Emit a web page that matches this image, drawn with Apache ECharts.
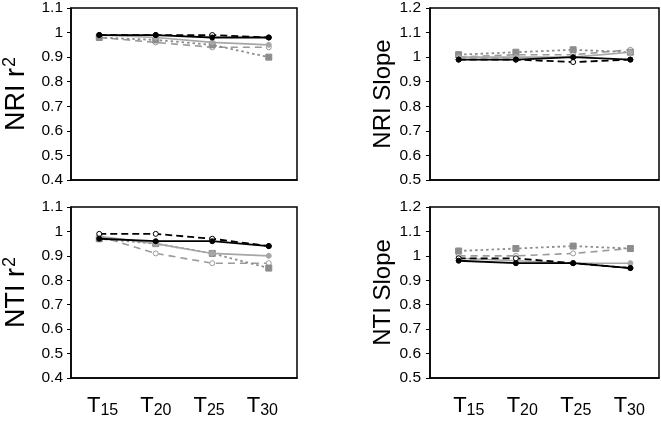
<!DOCTYPE html>
<html><head><meta charset="utf-8">
<script src="https://cdn.jsdelivr.net/npm/echarts@6/dist/echarts.min.js"></script>
<style>html,body{margin:0;padding:0;background:#fff}#c{width:661px;height:422px}</style>
</head><body><div id="c"></div>
<script>
// categories / tick labels
const categories = ['T15', 'T20', 'T25', 'T30'];

// NRI r2
const nriR2_blackSolid  = [0.99, 0.99, 0.98, 0.98];
const nriR2_blackDashed = [0.99, 0.99, 0.99, 0.98];
const nriR2_graySolid   = [0.99, 0.98, 0.96, 0.95];
const nriR2_grayDashed  = [0.98, 0.96, 0.94, 0.94];
const nriR2_grayDotted  = [0.98, 0.97, 0.95, 0.90];

// NRI slope
const nriSlope_blackSolid  = [0.99, 0.99, 1.00, 0.99];
const nriSlope_blackDashed = [0.99, 0.99, 0.98, 0.99];
const nriSlope_graySolid   = [1.00, 1.00, 1.00, 1.02];
const nriSlope_grayDashed  = [1.00, 1.01, 1.01, 1.03];
const nriSlope_grayDotted  = [1.01, 1.02, 1.03, 1.02];

// NTI r2
const ntiR2_blackSolid  = [0.97, 0.96, 0.96, 0.94];
const ntiR2_blackDashed = [0.99, 0.99, 0.97, 0.94];
const ntiR2_graySolid   = [0.98, 0.95, 0.91, 0.90];
const ntiR2_grayDashed  = [0.98, 0.91, 0.87, 0.87];
const ntiR2_grayDotted  = [0.97, 0.95, 0.91, 0.85];

// NTI slope
const ntiSlope_blackSolid  = [0.98, 0.97, 0.97, 0.95];
const ntiSlope_blackDashed = [0.99, 0.99, 0.97, 0.95];
const ntiSlope_graySolid   = [0.99, 0.98, 0.97, 0.97];
const ntiSlope_grayDashed  = [1.00, 1.00, 1.01, 1.03];
const ntiSlope_grayDotted  = [1.02, 1.03, 1.04, 1.03];

const panels = [
  {name: ['NRI r', '2'], min: 0.4, max: 1.1, data: [nriR2_blackSolid, nriR2_blackDashed, nriR2_graySolid, nriR2_grayDashed, nriR2_grayDotted]},
  {name: ['NRI Slope', ''], min: 0.5, max: 1.2, data: [nriSlope_blackSolid, nriSlope_blackDashed, nriSlope_graySolid, nriSlope_grayDashed, nriSlope_grayDotted]},
  {name: ['NTI r', '2'], min: 0.4, max: 1.1, data: [ntiR2_blackSolid, ntiR2_blackDashed, ntiR2_graySolid, ntiR2_grayDashed, ntiR2_grayDotted]},
  {name: ['NTI Slope', ''], min: 0.5, max: 1.2, data: [ntiSlope_blackSolid, ntiSlope_blackDashed, ntiSlope_graySolid, ntiSlope_grayDashed, ntiSlope_grayDotted]}
];

const styles = [
  {color: '#000', type: 'solid', width: 1.8, symbol: 'circle', fill: '#000', size: 5, z: 10},
  {color: '#000', type: [7, 4], width: 1.8, symbol: 'circle', fill: '#fff', size: 5, z: 9},
  {color: '#a6a6a6', type: 'solid', width: 1.6, symbol: 'circle', fill: '#a6a6a6', size: 5, z: 8},
  {color: '#9a9a9a', type: [7, 5], width: 1.6, symbol: 'circle', fill: '#fff', size: 5, z: 6},
  {color: '#8c8c8c', type: [2.5, 3], width: 1.8, symbol: 'rect', fill: '#8c8c8c', size: 6, z: 7}
];

const grids = [
  {left: 67, top: 7, width: 230, height: 173},
  {left: 430, top: 7, width: 229, height: 173},
  {left: 67, top: 207, width: 230, height: 171},
  {left: 430, top: 207, width: 229, height: 171},
  // label-only grids for the category labels below bottom panels
  {left: 76, top: 207, width: 213, height: 171},
  {left: 442, top: 207, width: 214, height: 171}
];

const F = 'Liberation Sans, Arial';
const xAxes = [], yAxes = [], series = [];
panels.forEach((p, i) => {
  xAxes.push({
    type: 'category', gridIndex: i, data: categories, boundaryGap: true,
    axisLine: {show: true, lineStyle: {color: '#000', width: 1.5}},
    axisTick: {show: false}, axisLabel: {show: false}, splitLine: {show: false}
  });
  const left = (i % 2 === 0);
  yAxes.push({
    type: 'value', gridIndex: i, min: p.min, max: p.max, interval: 0.1,
    axisLine: {show: true, lineStyle: {color: '#000', width: 1.5}},
    axisTick: {show: true, length: 4, lineStyle: {color: '#000'}},
    splitLine: {show: false},
    axisLabel: {fontFamily: F, fontSize: 15.5, color: '#000', margin: left ? 8 : 9,
      formatter: v => String(parseFloat(v.toFixed(1)))},
    name: p.name[1] ? '{a|' + p.name[0] + '}{b|' + p.name[1] + '}' : '{c|' + p.name[0] + '}',
    nameLocation: 'middle', nameRotate: 90, nameGap: left ? 38 : 32,
    nameTextStyle: {
      rich: {
        a: {fontFamily: F, fontSize: 27, color: '#000'},
        b: {fontFamily: F, fontSize: 18, color: '#000', verticalAlign: 'top', padding: [0, 0, 14, 1]},
        c: {fontFamily: F, fontSize: 24, color: '#000'}
      }
    }
  });
  p.data.forEach((d, k) => {
    const s = styles[k];
    series.push({
      type: 'line', xAxisIndex: i, yAxisIndex: i, data: d,
      symbol: s.symbol, symbolSize: s.size, showSymbol: true,
      lineStyle: {color: s.color, type: s.type, width: s.width},
      itemStyle: {color: s.fill, borderColor: s.color, borderWidth: 1},
      z: s.z, animation: false
    });
  });
});
[4, 5].forEach(g => {
  xAxes.push({
    type: 'category', gridIndex: g, data: categories, boundaryGap: true,
    axisLine: {show: false}, axisTick: {show: false}, splitLine: {show: false},
    axisLabel: {
      show: true, margin: 15, interval: 0,
      formatter: v => '{t|T}{s|' + v.slice(1) + '}',
      rich: {
        t: {fontFamily: F, fontSize: 22, color: '#000'},
        s: {fontFamily: F, fontSize: 16, color: '#000', padding: [10, 0, 0, 0]}
      }
    }
  });
  yAxes.push({type: 'value', gridIndex: g, show: false, min: 0, max: 1});
});

const chart = echarts.init(document.getElementById('c'), null, {renderer: 'canvas'});
chart.setOption({
  animation: false,
  grid: grids.map((g, i) => Object.assign({show: i < 4, borderColor: '#000', borderWidth: 1.5, backgroundColor: 'transparent'}, g)),
  xAxis: xAxes, yAxis: yAxes, series: series
});
</script></body></html>
